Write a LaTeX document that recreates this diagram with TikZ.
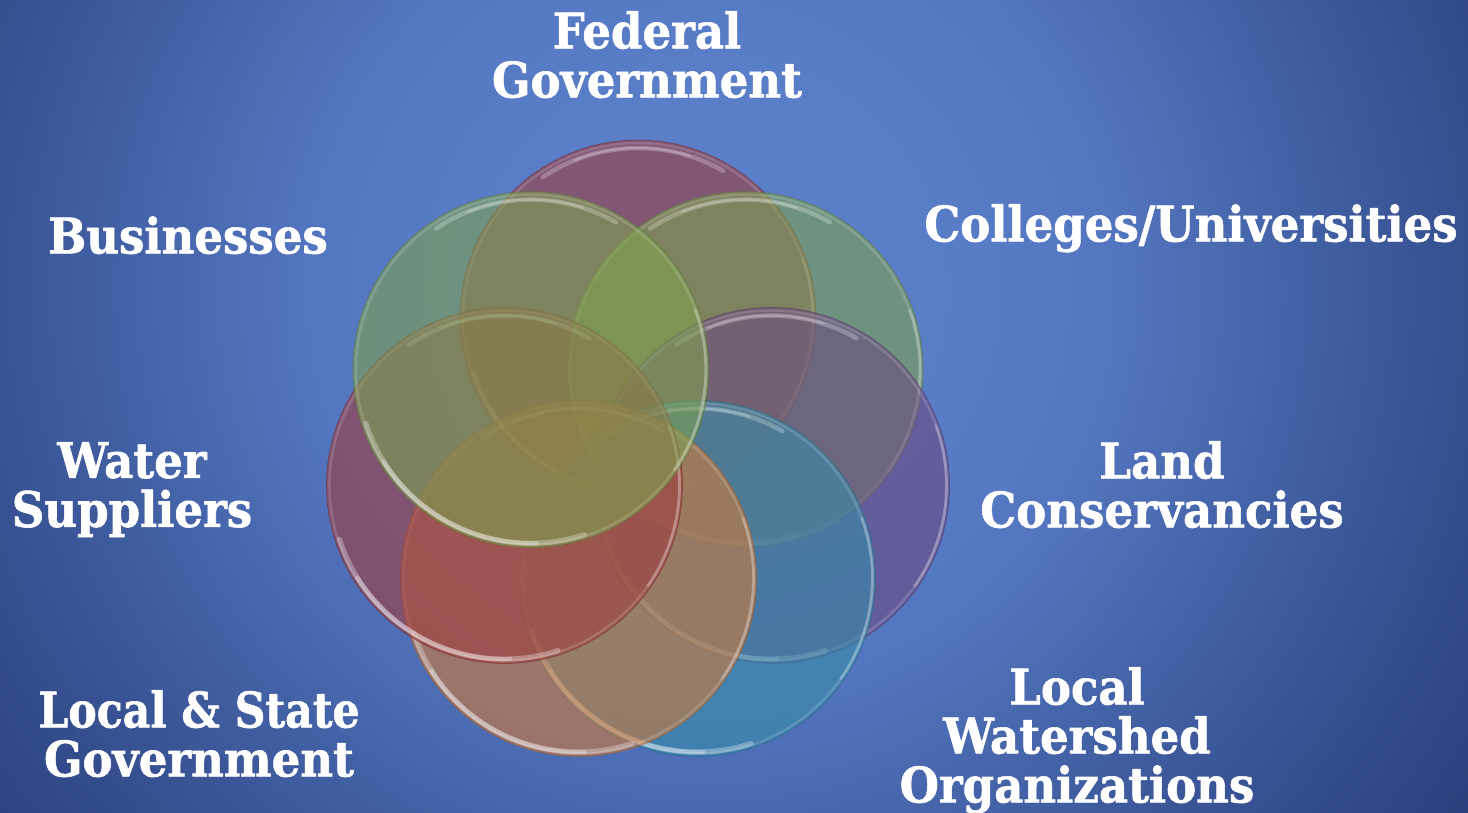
\documentclass[tikz,border=0pt]{standalone}
\usepackage{fontspec}
\newfontfamily\labfont[FakeStretch=0.92,FakeBold=1.2]{DejaVu Serif}
\newfontfamily\labfontn[FakeStretch=0.87,FakeBold=1.2]{DejaVu Serif}
\definecolor{bgA}{RGB}{90,126,200}
\definecolor{bgB}{RGB}{84,118,192}
\definecolor{bgC}{RGB}{66,96,164}
\definecolor{bgD}{RGB}{50,75,138}
\definecolor{bgE}{RGB}{38,58,118}
\pgfdeclareradialshading{bgshade}{\pgfpoint{0bp}{0bp}}{%
  color(0bp)=(bgA); color(5bp)=(bgA); color(10bp)=(bgB); color(15bp)=(bgC); color(20bp)=(bgD); color(25bp)=(bgE); color(50bp)=(bgE)}
\definecolor{cRed}{RGB}{158,60,62}
\definecolor{cGreen}{RGB}{125,160,80}
\definecolor{cPurple}{RGB}{108,74,130}
\definecolor{cAqua}{RGB}{55,140,168}
\definecolor{cOrange}{RGB}{206,122,58}
\tikzset{
  venn/.style={circle, minimum size=356pt, inner sep=0pt, fill=#1, fill opacity=0.6,
               draw=#1!70!black, draw opacity=0.5, line width=0.8pt},
  lab/.style={text=white, font=\labfont\bfseries\fontsize{49}{49}\selectfont,
              align=center, anchor=north, inner sep=0pt},
}
\newcommand\rimhl[1]{%
  \draw[white, opacity=0.15, line width=2.5pt] (#1.center) circle[radius=175pt];
  \draw[white, opacity=0.3, line width=5pt, line cap=round] (#1.center) ++(198:173.5pt) arc[start angle=198, end angle=288, radius=173.5pt];
  \draw[white, opacity=0.3, line width=4pt, line cap=round] (#1.center) ++(212:173.5pt) arc[start angle=212, end angle=272, radius=173.5pt];
  \draw[white, opacity=0.22, line width=3pt, line cap=round] (#1.center) ++(-35:175pt) arc[start angle=-35, end angle=20, radius=175pt];
  \draw[white, opacity=0.25, line width=4.5pt, line cap=round] (#1.center) ++(60:170pt) arc[start angle=60, end angle=124, radius=170pt];
  \draw[white, opacity=0.22, line width=2pt, line cap=round] (#1.center) ++(72:170pt) arc[start angle=72, end angle=112, radius=170pt];
}
\begin{document}
\begin{tikzpicture}[x=1pt,y=-1pt]
\useasboundingbox (0,0) rectangle (1468,812);
\begin{scope}
\clip (0,0) rectangle (1468,812);
\shade[shading=bgshade] (710,290) circle[radius=1000pt];
\end{scope}
\coordinate (cen) at (638,455);
\path (cen) ++(90:137pt) coordinate (p1)
      (cen) ++(38.57:137pt) coordinate (p2)
      (cen) ++(-12.86:137pt) coordinate (p3)
      (cen) ++(-64.29:137pt) coordinate (p4)
      (cen) ++(-115.71:137pt) coordinate (p5)
      (cen) ++(-167.14:137pt) coordinate (p6)
      (cen) ++(141.43:137pt) coordinate (p7);
\node[venn=cRed] (fed) at (p1) {}; \rimhl{fed}
\node[venn=cGreen] (col) at (p2) {}; \rimhl{col}
\node[venn=cPurple] (land) at (p3) {}; \rimhl{land}
\node[venn=cAqua] (wsh) at (p4) {}; \rimhl{wsh}
\node[venn=cOrange] (lsg) at (p5) {}; \rimhl{lsg}
\node[venn=cRed] (wat) at (p6) {}; \rimhl{wat}
\node[venn=cGreen] (bus) at (p7) {}; \rimhl{bus}

\node[lab] (tFed) at (647,11) {Federal\\Government};
\node[lab] (tCol) at (1191,204) {Colleges/Universities};
\node[lab] (tBus) at (188,216) {Businesses};
\node[lab] (tLand) at (1162,441) {Land\\Conservancies};
\node[lab] (tWat) at (132,442) {Water\\Suppliers};
\node[lab] (tLsg) at (199,690) {{\labfontn Local \& State}\\Government};
\node[lab] (tWsh) at (1077,667) {Local\\Watershed\\Organizations};
\end{tikzpicture}
\end{document}
